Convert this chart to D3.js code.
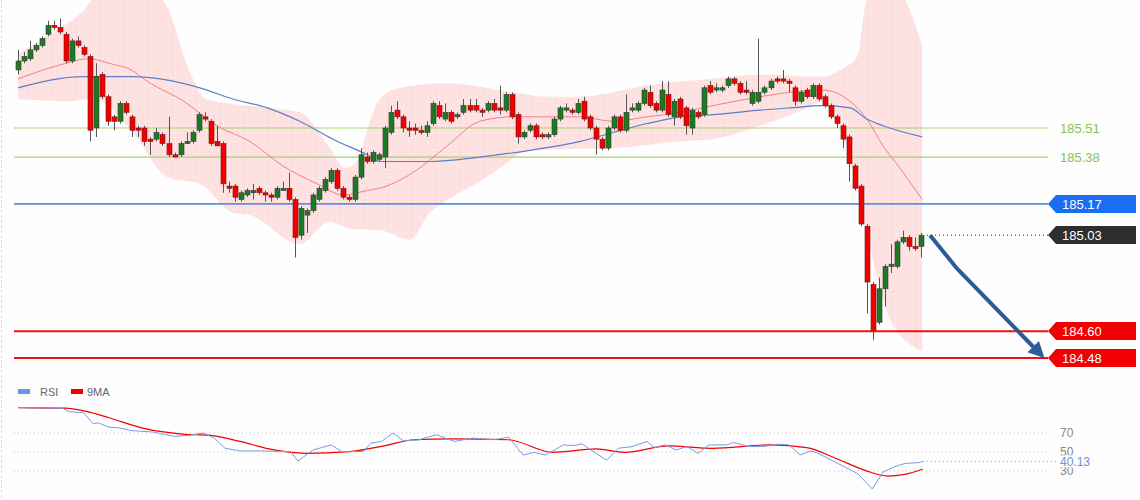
<!DOCTYPE html>
<html><head><meta charset="utf-8">
<script src="https://cdn.jsdelivr.net/npm/d3@7"></script>
<style>body{margin:0;background:#fff}svg{display:block;font-family:"Liberation Sans",Arial,sans-serif}</style>
</head><body><svg id="c" width="1140" height="500"></svg>
<script>
// [open, close, high, low]
const candles=[
[185.77,185.81,185.86,185.75],[185.81,185.83,185.85,185.80],[185.82,185.86,185.90,185.81],[185.86,185.88,185.89,185.85],[185.88,185.91,185.92,185.87],
[185.93,185.97,185.99,185.92],[185.97,185.96,185.99,185.95],[185.96,185.94,186.00,185.93],[185.93,185.81,185.94,185.80],[185.81,185.90,185.91,185.80],
[185.90,185.88,185.92,185.87],[185.87,185.84,185.88,185.83],[185.83,185.50,185.84,185.45],[185.51,185.74,185.80,185.47],[185.75,185.65,185.76,185.64],
[185.65,185.54,185.66,185.52],[185.56,185.54,185.57,185.50],[185.54,185.62,185.63,185.53],[185.62,185.58,185.63,185.57],[185.56,185.50,185.57,185.47],
[185.51,185.50,185.52,185.47],[185.51,185.45,185.52,185.43],[185.46,185.45,185.47,185.39],[185.46,185.49,185.51,185.45],[185.48,185.44,185.49,185.43],
[185.44,185.39,185.56,185.38],[185.39,185.38,185.40,185.38],[185.39,185.44,185.45,185.38],[185.44,185.45,185.49,185.44],[185.45,185.49,185.50,185.44],
[185.50,185.57,185.58,185.49],[185.56,185.55,185.58,185.54],[185.54,185.44,185.55,185.43],[185.45,185.43,185.52,185.43],[185.44,185.26,185.45,185.22],
[185.25,185.24,185.27,185.22],[185.25,185.20,185.26,185.18],[185.19,185.22,185.23,185.18],[185.21,185.23,185.24,185.20],[185.22,185.23,185.26,185.19],
[185.24,185.22,185.25,185.21],[185.22,185.21,185.23,185.18],[185.21,185.20,185.22,185.18],[185.20,185.24,185.25,185.19],[185.23,185.24,185.27,185.23],
[185.24,185.19,185.31,185.18],[185.19,185.02,185.20,184.93],[185.03,185.15,185.16,185.01],[185.12,185.14,185.15,185.04],[185.14,185.21,185.22,185.13],
[185.19,185.24,185.25,185.18],[185.23,185.28,185.29,185.22],[185.27,185.32,185.33,185.26],[185.32,185.24,185.33,185.23],[185.24,185.20,185.25,185.19],
[185.20,185.19,185.21,185.18],[185.19,185.29,185.30,185.18],[185.29,185.39,185.42,185.28],[185.38,185.36,185.40,185.35],[185.36,185.40,185.41,185.35],
[185.37,185.39,185.40,185.36],[185.38,185.51,185.52,185.33],[185.49,185.58,185.61,185.48],[185.59,185.56,185.63,185.55],[185.56,185.51,185.57,185.49],
[185.51,185.50,185.54,185.47],[185.51,185.50,185.53,185.48],[185.50,185.49,185.52,185.48],[185.49,185.52,185.54,185.47],[185.53,185.62,185.63,185.52],
[185.61,185.56,185.63,185.55],[185.55,185.58,185.62,185.54],[185.58,185.54,185.59,185.53],[185.56,185.57,185.58,185.55],[185.58,185.61,185.64,185.57],
[185.61,185.59,185.64,185.58],[185.61,185.59,185.64,185.58],[185.59,185.58,185.60,185.56],[185.59,185.62,185.63,185.58],[185.62,185.59,185.64,185.58],
[185.60,185.59,185.70,185.57],[185.59,185.66,185.67,185.58],[185.66,185.56,185.67,185.55],[185.57,185.47,185.58,185.44],[185.47,185.49,185.50,185.46],
[185.50,185.52,185.53,185.49],[185.52,185.47,185.53,185.46],[185.48,185.47,185.49,185.46],[185.47,185.48,185.49,185.46],[185.48,185.55,185.56,185.47],
[185.55,185.60,185.61,185.54],[185.59,185.60,185.62,185.58],[185.59,185.58,185.60,185.57],[185.58,185.62,185.64,185.57],[185.63,185.55,185.65,185.54],
[185.56,185.51,185.57,185.50],[185.51,185.46,185.52,185.39],[185.46,185.42,185.47,185.41],[185.42,185.51,185.52,185.41],[185.51,185.56,185.57,185.50],
[185.56,185.50,185.57,185.49],[185.50,185.58,185.66,185.49],[185.59,185.60,185.62,185.58],[185.59,185.62,185.63,185.58],[185.62,185.68,185.69,185.61],
[185.67,185.61,185.70,185.60],[185.62,185.59,185.63,185.58],[185.59,185.68,185.72,185.58],[185.66,185.57,185.72,185.56],[185.56,185.63,185.64,185.52],
[185.64,185.56,185.65,185.55],[185.60,185.52,185.61,185.48],[185.51,185.59,185.60,185.48],[185.58,185.56,185.59,185.55],[185.57,185.69,185.70,185.56],
[185.70,185.67,185.72,185.66],[185.68,185.69,185.71,185.67],[185.68,185.69,185.70,185.67],[185.70,185.73,185.74,185.69],[185.73,185.71,185.74,185.70],
[185.71,185.67,185.72,185.66],[185.68,185.67,185.72,185.66],[185.62,185.67,185.68,185.61],[185.63,185.67,185.91,185.62],[185.67,185.69,185.70,185.66],
[185.69,185.72,185.73,185.68],[185.73,185.72,185.74,185.71],[185.73,185.72,185.77,185.71],[185.72,185.71,185.73,185.67],[185.69,185.63,185.70,185.61],
[185.63,185.67,185.68,185.62],[185.68,185.65,185.69,185.64],[185.65,185.70,185.71,185.64],[185.70,185.64,185.71,185.63],[185.65,185.61,185.66,185.60],
[185.61,185.56,185.62,185.55],[185.56,185.53,185.57,185.51],[185.52,185.46,185.53,185.42],[185.47,185.35,185.48,185.27],[185.34,185.24,185.35,185.23],
[185.25,185.08,185.26,185.07],[185.07,184.82,185.08,184.68],[184.81,184.60,184.82,184.56],[184.64,184.79,184.84,184.63],[184.79,184.89,184.90,184.71],
[184.89,184.90,184.99,184.86],[184.89,185.00,185.01,184.88],[185.00,185.02,185.05,184.99],[185.02,184.98,185.03,184.96],[184.98,184.97,185.02,184.96],
[184.98,185.03,185.04,184.93]];
// [candle index, price]
const ma20=[[0,185.73],[8,185.80],[11.5,185.82],[16.5,185.79],[18,185.78],[22,185.71],[27.5,185.63],[33,185.52],[38.5,185.45],[44,185.34],[49.7,185.26],[54,185.21],[58,185.23],[60,185.24],[65.6,185.31],[71.3,185.43],[76.7,185.54],[82.2,185.56],[87.9,185.56],[93.4,185.56],[98.8,185.54],[104.5,185.56],[110,185.58],[115.4,185.61],[123.3,185.65],[128.2,185.67],[133.7,185.68],[138.2,185.63],[141,185.55],[143.7,185.43],[146.5,185.33],[150.2,185.19]];
const ma50=[[0,185.69],[10.8,185.74],[19.1,185.74],[30.2,185.69],[35.7,185.64],[41.4,185.60],[46.8,185.54],[52.3,185.46],[58,185.39],[60.1,185.36],[68.4,185.36],[76.7,185.38],[85,185.41],[93.4,185.45],[98.8,185.49],[104.5,185.53],[110,185.56],[115.4,185.57],[123.3,185.59],[128.2,185.60],[133.7,185.61],[138.2,185.60],[141,185.55],[143.7,185.52],[150.2,185.47]];
const bandUpper=[[0,185.84],[5.3,185.93],[10.3,186.02],[13.6,186.11],[21.9,186.11],[24.4,186.07],[26.1,185.96],[27.7,185.82],[29.4,185.71],[31.1,185.64],[35.2,185.62],[41.9,185.60],[46.8,185.58],[51.8,185.42],[54.3,185.33],[56.5,185.37],[58.1,185.51],[60.1,185.64],[63.5,185.69],[71.3,185.71],[82.2,185.67],[87.9,185.65],[93.4,185.65],[98.8,185.67],[104.5,185.70],[115.4,185.73],[123.3,185.75],[133.7,185.74],[136.5,185.77],[139.4,185.83],[141,186.09],[142.4,186.13],[145.7,186.13],[150.2,185.88]];
const bandLower=[[0,185.64],[8.1,185.63],[12.5,185.64],[19.1,185.49],[24.8,185.29],[30.2,185.26],[35.7,185.13],[38.5,185.12],[46.8,184.99],[51.8,185.09],[55.1,185.06],[60.6,185.05],[65.1,185.01],[68.4,185.13],[70.9,185.18],[76.7,185.27],[80,185.33],[85,185.41],[98.8,185.42],[110,185.45],[115.4,185.46],[123.3,185.52],[131.1,185.60],[133.7,185.63],[136.5,185.52],[139.4,185.24],[141,185.04],[144.9,184.65],[147.7,184.55],[150.2,184.51]];
const rsi=[[0,96.8],[7.3,96.1],[8.5,92.5],[10.9,91.4],[12.5,79.6],[13.3,80.7],[15.1,76.1],[16.9,75.4],[18.8,72.5],[22.4,71.1],[26,66.4],[28.4,67.5],[30.8,70],[32.6,64.6],[34.4,53.9],[36.9,51.1],[40.5,51.1],[45.3,50.4],[46.5,40.4],[49,52.1],[52,57.5],[53.8,50.4],[57.4,50.4],[58.6,59.3],[60.4,61.1],[62.3,70],[64,61.8],[66.4,62.5],[69.5,68.2],[72.5,61.1],[75.5,64.6],[79.1,62.9],[81.5,65.7],[83.9,46.8],[85.7,49.6],[87.6,46.8],[90.6,57.5],[92.4,56.8],[93.7,58.6],[95.4,51.1],[97.8,41.4],[99.7,53.9],[102,55.7],[104.5,61.1],[105.7,54.6],[107.5,57.5],[109.3,52.1],[111.1,55.7],[113,48.6],[114.8,57.5],[117.8,57.5],[118.9,60],[121.4,55.7],[123.8,55.7],[126.2,58.2],[128.1,57.5],[129.9,46.8],[131.7,51.1],[132.9,48.6],[135.9,38.9],[139.5,27.1],[141.9,11.1],[143.7,28.9],[145.5,34.3],[147.3,37.9],[149.8,38.9],[150.3,40.13]];
const rsiMA=[[0,96.8],[7.8,96.1],[11.5,92.5],[15.1,86.1],[21.1,74.6],[27.2,68.9],[32,67.5],[36.9,61.1],[41.7,53.2],[47.7,48.6],[55,50.4],[61,56.8],[65.8,62.9],[71.9,63.9],[81.5,62.9],[88.8,49.6],[96,53.2],[100.8,49.6],[108.1,56.4],[115.3,53.9],[125,57.5],[131,54.6],[135.9,43.2],[140.7,30.7],[144.4,24.6],[147.3,26.4],[150.3,31.8]];
const greenLevels=[185.51,185.38];
const blueLevel=185.17, lastPrice=185.03;
const redLevels=[184.60,184.48];
const rsiLevels=[70,50,30];
const rsiLast=40.13;
const arrowPath=[[151.5,185.03],[156,184.88],[170.5,184.48]];

const svg=d3.select("#c");
svg.append("rect").attr("width",1140).attr("height",500).attr("fill","#fdfefd");
svg.append("line").attr("x1",1.5).attr("x2",1.5).attr("y1",0).attr("y2",500).attr("stroke","#d8dde8").attr("stroke-dasharray","3,2");
const x=d3.scaleLinear().domain([0,150]).range([18,921]);
const y=d3.scaleLinear().domain([184.48,185.51]).range([358,128]);
const yr=d3.scaleLinear().domain([30,70]).range([471,433]);
const defs=svg.append("defs");
defs.append("clipPath").attr("id","cp").append("rect").attr("x",0).attr("y",0).attr("width",1140).attr("height",372);
const pat=defs.append("pattern").attr("id","dots").attr("width",6).attr("height",4).attr("patternUnits","userSpaceOnUse");
pat.append("rect").attr("width",6).attr("height",4).attr("fill","#fde1e1");
pat.append("rect").attr("x",1).attr("y",1).attr("width",1).attr("height",1).attr("fill","#fff6f6");
const g=svg.append("g").attr("clip-path","url(#cp)");
const ln=d3.line().x(d=>x(d[0])).y(d=>y(d[1])).curve(d3.curveMonotoneX);
const upPath=ln(bandUpper), loPath=ln(bandLower.slice().reverse());
g.append("path").attr("d",upPath+"L"+loPath.slice(1)+"Z").attr("fill","url(#dots)");
greenLevels.forEach(v=>g.append("line").attr("x1",14).attr("x2",1048).attr("y1",y(v)).attr("y2",y(v)).attr("stroke","#a6d46e").attr("stroke-width",1.2));
g.append("line").attr("x1",14).attr("x2",1048).attr("y1",y(blueLevel)).attr("y2",y(blueLevel)).attr("stroke","#5b8def").attr("stroke-width",1.6);
g.append("path").attr("d",ln(ma20)).attr("fill","none").attr("stroke","#f08080").attr("stroke-width",1);
g.append("path").attr("d",ln(ma50)).attr("fill","none").attr("stroke","#5b7fc4").attr("stroke-width",1.2);
const cw=4;
const cg=g.append("g");
candles.forEach((c,i)=>{
  const [o,cl,h,l]=c; const up=cl>=o; const cx=Math.round(x(i))+0.5;
  cg.append("line").attr("x1",cx).attr("x2",cx).attr("y1",y(h)).attr("y2",y(l)).attr("stroke","#555").attr("stroke-width",1);
  const top=y(Math.max(o,cl)), bot=y(Math.min(o,cl));
  cg.append("rect").attr("x",cx-cw/2-0.5).attr("y",top).attr("width",cw+1).attr("height",Math.max(1.5,bot-top))
    .attr("fill",up?"#1b7a22":"#f00000").attr("stroke",up?"#3a3a3a":"#7a1a1a").attr("stroke-width",0.6);
});
redLevels.forEach(v=>svg.append("line").attr("x1",14).attr("x2",1048).attr("y1",y(v)).attr("y2",y(v)).attr("stroke","#ee1111").attr("stroke-width",2));
svg.append("line").attr("x1",x(150)+6).attr("x2",1048).attr("y1",y(lastPrice)).attr("y2",y(lastPrice)).attr("stroke","#333").attr("stroke-dasharray","1,3");
const ap=arrowPath.map(d=>[x(d[0]),y(d[1])]);
svg.append("path").attr("d",d3.line()(ap.slice(0,2).concat([[ap[2][0]-9,ap[2][1]-9]]))).attr("fill","none").attr("stroke","#2d5b9a").attr("stroke-width",4).attr("stroke-linejoin","round");
{const [ex,ey]=ap[2];const [px,py]=ap[1];const ang=Math.atan2(ey-py,ex-px);const L=16,W=8;
 const bx=ex-L*Math.cos(ang),by=ey-L*Math.sin(ang);
 svg.append("path").attr("d",`M${ex},${ey}L${bx+W*Math.sin(ang)},${by-W*Math.cos(ang)}L${bx-W*Math.sin(ang)},${by+W*Math.cos(ang)}Z`).attr("fill","#2d5b9a");}
greenLevels.forEach(v=>svg.append("text").attr("x",1060).attr("y",y(v)+5).attr("font-size",13).attr("fill","#8cc152").text(v.toFixed(2)));
function tag(v,col){const yy=Math.round(y(v));svg.append("path").attr("d",`M1048,${yy}L1056,${yy-9}H1136V${yy+9}H1056Z`).attr("fill",col);
 svg.append("text").attr("x",1062).attr("y",yy+5).attr("font-size",13).attr("fill","#fff").text(v.toFixed(2));}
tag(blueLevel,"#1a6ef5");tag(lastPrice,"#2e2e2e");redLevels.forEach(v=>tag(v,"#f00000"));
svg.append("rect").attr("x",18).attr("y",389).attr("width",12).attr("height",5).attr("fill","#6f95e6");
svg.append("text").attr("x",40).attr("y",396).attr("font-size",11).attr("fill","#666").text("RSI");
svg.append("rect").attr("x",71).attr("y",389).attr("width",12).attr("height",5).attr("fill","#f00000");
svg.append("text").attr("x",87).attr("y",396).attr("font-size",11).attr("fill","#666").text("9MA");
rsiLevels.forEach(v=>{svg.append("line").attr("x1",14).attr("x2",1048).attr("y1",yr(v)).attr("y2",yr(v)).attr("stroke","#bbb").attr("stroke-dasharray","1,3");
 svg.append("text").attr("x",1060).attr("y",yr(v)+4).attr("font-size",12).attr("fill","#888").text(v);});
const lr=d3.line().x(d=>x(d[0])).y(d=>yr(d[1]));
svg.append("path").attr("d",d3.line().x(d=>x(d[0])).y(d=>yr(d[1])).curve(d3.curveMonotoneX)(rsiMA)).attr("fill","none").attr("stroke","#f00000").attr("stroke-width",1.2);
svg.append("path").attr("d",lr(rsi)).attr("fill","none").attr("stroke","#7b9be6").attr("stroke-width",1);
svg.append("line").attr("x1",x(150.3)).attr("x2",1058).attr("y1",yr(rsiLast)).attr("y2",yr(rsiLast)).attr("stroke","#7b9be6").attr("stroke-dasharray","1,3");
svg.append("rect").attr("x",1058).attr("y",yr(rsiLast)-6).attr("width",34).attr("height",12).attr("fill","#fdfefd");
svg.append("text").attr("x",1060).attr("y",yr(rsiLast)+5).attr("font-size",12).attr("fill","#6f8fe0").text(rsiLast.toFixed(2));
</script></body></html>
